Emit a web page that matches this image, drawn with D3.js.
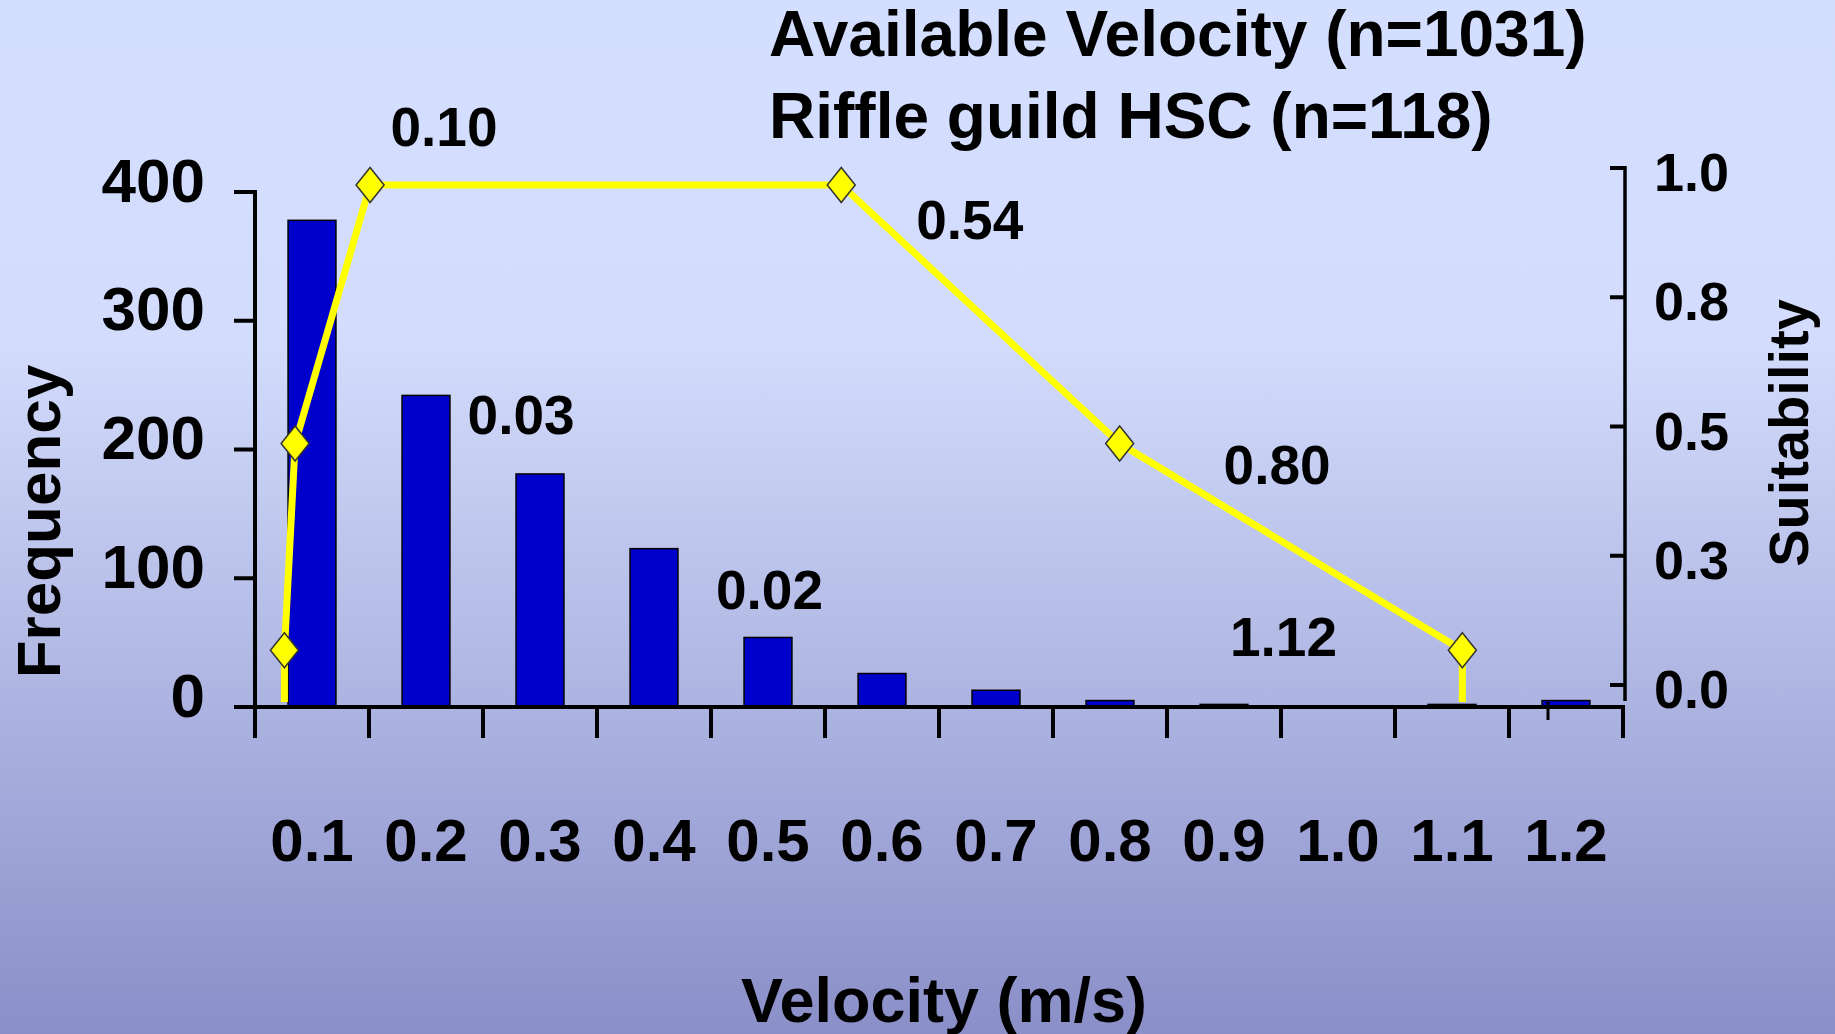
<!DOCTYPE html>
<html>
<head>
<meta charset="utf-8">
<script src="https://cdn.jsdelivr.net/npm/d3@7"></script>
<style>
  html, body { margin: 0; padding: 0; overflow: hidden; }
  svg { display: block; font-family: "Liberation Sans", Arial, sans-serif; font-weight: bold; }
</style>
</head>
<body>
<svg id="chart" width="1835" height="1034"></svg>
<script>
// velocity bins (upper bound, m/s) and their counts
const velocityBins = ["0.1", "0.2", "0.3", "0.4", "0.5", "0.6", "0.7", "0.8", "0.9", "1.0", "1.1", "1.2"];
const frequency = [378, 242, 181, 123, 54, 26, 13, 5, 2, 0, 2, 5];

// riffle guild habitat suitability curve
const hscVelocity = [0.02, 0.02, 0.03, 0.10, 0.54, 0.80, 1.12, 1.12];
const hscSuitability = [0, 0.1, 0.5, 1.0, 1.0, 0.5, 0.1, 0];

// breakpoint annotations, anchored in (velocity, suitability) units
const breakLabels = ["0.10", "0.03", "0.02", "0.54", "0.80", "1.12"];
const breakLabelV = [0.169, 0.241, 0.473, 0.660, 0.947, 0.953];
const breakLabelS = [1.112, 0.555, 0.217, 0.932, 0.458, 0.126];

const freqTicks = [0, 100, 200, 300, 400];
const suitTicks = [0, 0.25, 0.5, 0.75, 1];
const titleLines = ["Available Velocity (n=1031)", "Riffle guild HSC (n=118)"];

const width = 1835, height = 1034;
const plot = { left: 255, right: 1623, top: 192, bottom: 707 };
const suitAxisX = 1625;
const suitAxisShift = -17; // the suitability axis sits a little above the curve's frame

const svg = d3.select("#chart");

// background
const grad = svg.append("defs").append("linearGradient")
  .attr("id", "bg").attr("x1", 0).attr("y1", 0).attr("x2", 0).attr("y2", 1);
grad.append("stop").attr("offset", "0%").attr("stop-color", "#d4defe");
grad.append("stop").attr("offset", "33%").attr("stop-color", "#d3dcfc");
grad.append("stop").attr("offset", "100%").attr("stop-color", "#8a8fc8");
svg.append("rect").attr("width", width).attr("height", height).attr("fill", "url(#bg)");

// scales
const x = d3.scaleBand()
  .domain(velocityBins)
  .range([plot.left, plot.right])
  .paddingInner(0.58)
  .paddingOuter(0.29);

const yFreq = d3.scaleLinear().domain([0, 400]).range([plot.bottom, plot.top]);

const xVel = d3.scaleLinear().domain([0, 1.2]).range([263, 1548]);
const ySuit = d3.scaleLinear().domain([0, 1]).range([702, 185]);
const ySuitAxis = ySuit.copy().range(ySuit.range().map(v => v + suitAxisShift));

// bars
svg.append("g")
  .selectAll("rect")
  .data(frequency)
  .enter()
  .append("rect")
    .attr("x", (d, i) => x(velocityBins[i]))
    .attr("y", d => yFreq(d))
    .attr("width", x.bandwidth())
    .attr("height", d => yFreq(0) - yFreq(d))
    .attr("fill", "#0000cc")
    .attr("stroke", "#000")
    .attr("stroke-width", 1.5);

// left axis
const leftAxis = svg.append("g");
leftAxis.append("line")
  .attr("x1", plot.left).attr("x2", plot.left)
  .attr("y1", yFreq(400)).attr("y2", yFreq(0))
  .attr("stroke", "#000").attr("stroke-width", 4);
leftAxis.selectAll(".tick")
  .data(freqTicks)
  .enter()
  .append("line")
    .attr("x1", plot.left - 21).attr("x2", plot.left + 2)
    .attr("y1", d => yFreq(d)).attr("y2", d => yFreq(d))
    .attr("stroke", "#000").attr("stroke-width", 4);
leftAxis.selectAll("text")
  .data(freqTicks)
  .enter()
  .append("text")
    .attr("x", 205)
    .attr("y", d => yFreq(d) - 12)
    .attr("text-anchor", "end")
    .attr("dominant-baseline", "central")
    .attr("font-size", 62)
    .text(d => d);

// bottom axis, ticks on the bin boundaries
const bottomAxis = svg.append("g");
bottomAxis.append("line")
  .attr("x1", plot.left).attr("x2", plot.right + 2)
  .attr("y1", plot.bottom).attr("y2", plot.bottom)
  .attr("stroke", "#000").attr("stroke-width", 4);
const boundaries = velocityBins.map(b => x(b) - (x.step() - x.bandwidth()) / 2)
  .concat([plot.right]);
bottomAxis.selectAll(".tick")
  .data(boundaries)
  .enter()
  .append("line")
    .attr("x1", d => d).attr("x2", d => d)
    .attr("y1", plot.bottom).attr("y2", plot.bottom + 31)
    .attr("stroke", "#000").attr("stroke-width", 4);
// end of the curve's own velocity axis
bottomAxis.append("line")
  .attr("x1", xVel(1.2)).attr("x2", xVel(1.2))
  .attr("y1", plot.bottom - 5).attr("y2", plot.bottom + 13)
  .attr("stroke", "#000").attr("stroke-width", 3);
bottomAxis.selectAll("text")
  .data(velocityBins)
  .enter()
  .append("text")
    .attr("x", d => x(d) + x.bandwidth() / 2)
    .attr("y", 840)
    .attr("text-anchor", "middle")
    .attr("dominant-baseline", "central")
    .attr("font-size", 60)
    .text(d => d);

// right (suitability) axis
const rightAxis = svg.append("g");
rightAxis.append("line")
  .attr("x1", suitAxisX).attr("x2", suitAxisX)
  .attr("y1", ySuitAxis(1) - 2).attr("y2", ySuitAxis(0) + 16)
  .attr("stroke", "#000").attr("stroke-width", 3.5);
rightAxis.selectAll(".tick")
  .data(suitTicks)
  .enter()
  .append("line")
    .attr("x1", suitAxisX - 15).attr("x2", suitAxisX)
    .attr("y1", d => ySuitAxis(d)).attr("y2", d => ySuitAxis(d))
    .attr("stroke", "#000").attr("stroke-width", 4);
rightAxis.selectAll("text")
  .data(suitTicks)
  .enter()
  .append("text")
    .attr("x", suitAxisX + 29)
    .attr("y", d => ySuitAxis(d) + 4)
    .attr("dominant-baseline", "central")
    .attr("font-size", 54)
    .text(d => d3.format(".1f")(d));

// suitability curve
const curve = hscVelocity.map((v, i) => [v, hscSuitability[i]]);
const line = d3.line()
  .x(d => xVel(d[0]))
  .y(d => ySuit(d[1]));

svg.append("path")
  .datum(curve)
  .attr("d", line)
  .attr("fill", "none")
  .attr("stroke", "#ffff00")
  .attr("stroke-width", 7)
  .attr("stroke-linejoin", "round");

const diamond = "M0,-17.5L14,0L0,17.5L-14,0Z";
svg.append("g")
  .selectAll("path")
  .data(curve.filter(d => d[1] > 0))
  .enter()
  .append("path")
    .attr("d", diamond)
    .attr("transform", d => `translate(${xVel(d[0])},${ySuit(d[1])})`)
    .attr("fill", "#ffff00")
    .attr("stroke", "#333")
    .attr("stroke-width", 1.5);

// breakpoint labels
svg.append("g")
  .selectAll("text")
  .data(breakLabels)
  .enter()
  .append("text")
    .attr("x", (d, i) => xVel(breakLabelV[i]))
    .attr("y", (d, i) => ySuit(breakLabelS[i]))
    .attr("text-anchor", "middle")
    .attr("dominant-baseline", "central")
    .attr("font-size", 55)
    .text(d => d);

// titles
svg.append("g")
  .selectAll("text")
  .data(titleLines)
  .enter()
  .append("text")
    .attr("x", 769)
    .attr("y", (d, i) => 56 + i * 82)
    .attr("font-size", 64)
    .text(d => d);

svg.append("text")
  .attr("transform", `translate(60, ${(plot.top + plot.bottom) / 2 + 72}) rotate(-90)`)
  .attr("text-anchor", "middle")
  .attr("font-size", 62)
  .text("Frequency");

svg.append("text")
  .attr("transform", `translate(1808, 433) rotate(-90)`)
  .attr("text-anchor", "middle")
  .attr("font-size", 56)
  .text("Suitability");

svg.append("text")
  .attr("x", 944)
  .attr("y", 1022)
  .attr("text-anchor", "middle")
  .attr("font-size", 63)
  .text("Velocity (m/s)");
</script>
</body>
</html>
